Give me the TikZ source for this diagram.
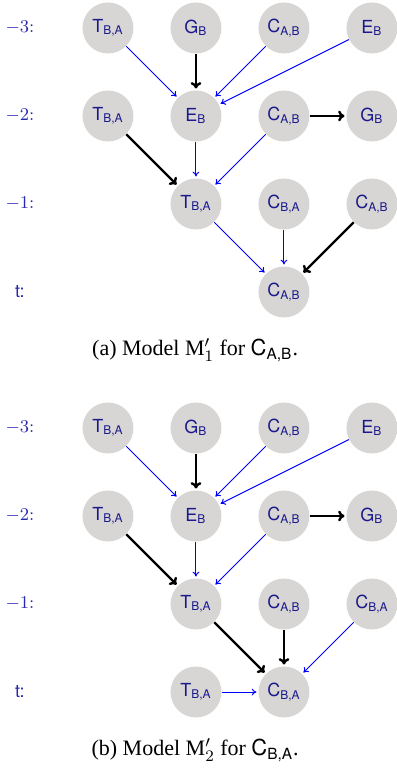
\documentclass[tikz,border=0pt]{standalone}
\usepackage[no-math]{fontspec}
\setmainfont{Liberation Serif}
\setsansfont{TeX Gyre Heros}
\usetikzlibrary{arrows.meta}

\definecolor{nodegray}{RGB}{216,214,212}
\definecolor{nodeblue}{RGB}{25,25,140}
\definecolor{lagblue}{RGB}{40,40,175}
\newcommand{\vn}[2]{#1\textsubscript{#2}}

\tikzset{
  var/.style={circle,fill=nodegray,text=nodeblue,minimum size=25.5pt,inner sep=0pt,font=\sffamily\small},
  lag/.style={text=lagblue,font=\small},
  caption/.style={font=\fontsize{11}{13}\selectfont},
  weak/.style={-{To[length=2.4pt,width=3.4pt]},blue,line width=0.5pt,shorten >=0.8pt},
  strong/.style={-{To[length=3.2pt,width=5.4pt]},black,line width=1.2pt,shorten >=0.8pt}
}

\begin{document}
\begin{tikzpicture}[x=44pt,y=44pt]
  \useasboundingbox (-0.227,-5.409) rectangle (4.273,3.318);

  % (a) model for C_{A,B}
  \node[lag] (aL3) at (0,3) {$-3{:}$};
  \node[lag] (aL2) at (0,2) {$-2{:}$};
  \node[lag] (aL1) at (0,1) {$-1{:}$};
  \node[lag,font=\sffamily\small] (aL0) at (0,0) {t:};

  \node[var] (aT3) at (1,3) {\vn{T}{B,A}};
  \node[var] (aG3) at (2,3) {\vn{G}{B}};
  \node[var] (aC3) at (3,3) {\vn{C}{A,B}};
  \node[var] (aE3) at (4,3) {\vn{E}{B}};
  \node[var] (aT2) at (1,2) {\vn{T}{B,A}};
  \node[var] (aE2) at (2,2) {\vn{E}{B}};
  \node[var] (aC2) at (3,2) {\vn{C}{A,B}};
  \node[var] (aG2) at (4,2) {\vn{G}{B}};
  \node[var] (aT1) at (2,1) {\vn{T}{B,A}};
  \node[var] (aD1) at (3,1) {\vn{C}{B,A}};
  \node[var] (aC1) at (4,1) {\vn{C}{A,B}};
  \node[var] (aC0) at (3,0) {\vn{C}{A,B}};

  \draw[weak] (aT3) -- (aE2);
  \draw[strong] (aG3) -- (aE2);
  \draw[weak] (aC3) -- (aE2);
  \draw[weak] (aE3) -- (aE2);
  \draw[strong] (aC2) -- (aG2);
  \draw[strong] (aT2) -- (aT1);
  \draw[weak] (aE2) -- (aT1);
  \draw[weak] (aC2) -- (aT1);
  \draw[weak] (aT1) -- (aC0);
  \draw[weak] (aD1) -- (aC0);
  \draw[strong] (aC1) -- (aC0);

  \node[caption] (capA) at (1.99,-0.66) {(a) Model M$'_1$ for \textsf{\vn{C}{A,B}}.};

  % (b) model for C_{B,A}
  \begin{scope}[yshift=-200pt]
    \node[lag] (bL3) at (0,3) {$-3{:}$};
    \node[lag] (bL2) at (0,2) {$-2{:}$};
    \node[lag] (bL1) at (0,1) {$-1{:}$};
    \node[lag,font=\sffamily\small] (bL0) at (0,0) {t:};

    \node[var] (bT3) at (1,3) {\vn{T}{B,A}};
    \node[var] (bG3) at (2,3) {\vn{G}{B}};
    \node[var] (bC3) at (3,3) {\vn{C}{A,B}};
    \node[var] (bE3) at (4,3) {\vn{E}{B}};
    \node[var] (bT2) at (1,2) {\vn{T}{B,A}};
    \node[var] (bE2) at (2,2) {\vn{E}{B}};
    \node[var] (bC2) at (3,2) {\vn{C}{A,B}};
    \node[var] (bG2) at (4,2) {\vn{G}{B}};
    \node[var] (bT1) at (2,1) {\vn{T}{B,A}};
    \node[var] (bC1) at (3,1) {\vn{C}{A,B}};
    \node[var] (bD1) at (4,1) {\vn{C}{B,A}};
    \node[var] (bT0) at (2,0) {\vn{T}{B,A}};
    \node[var] (bD0) at (3,0) {\vn{C}{B,A}};

    \draw[weak] (bT3) -- (bE2);
    \draw[strong] (bG3) -- (bE2);
    \draw[weak] (bC3) -- (bE2);
    \draw[weak] (bE3) -- (bE2);
    \draw[strong] (bC2) -- (bG2);
    \draw[strong] (bT2) -- (bT1);
    \draw[weak] (bE2) -- (bT1);
    \draw[weak] (bC2) -- (bT1);
    \draw[strong] (bT1) -- (bD0);
    \draw[strong] (bC1) -- (bD0);
    \draw[weak] (bD1) -- (bD0);
    \draw[weak] (bT0) -- (bD0);

    \node[caption] (capB) at (1.99,-0.66) {(b) Model M$'_2$ for \textsf{\vn{C}{B,A}}.};
  \end{scope}
\end{tikzpicture}
\end{document}
